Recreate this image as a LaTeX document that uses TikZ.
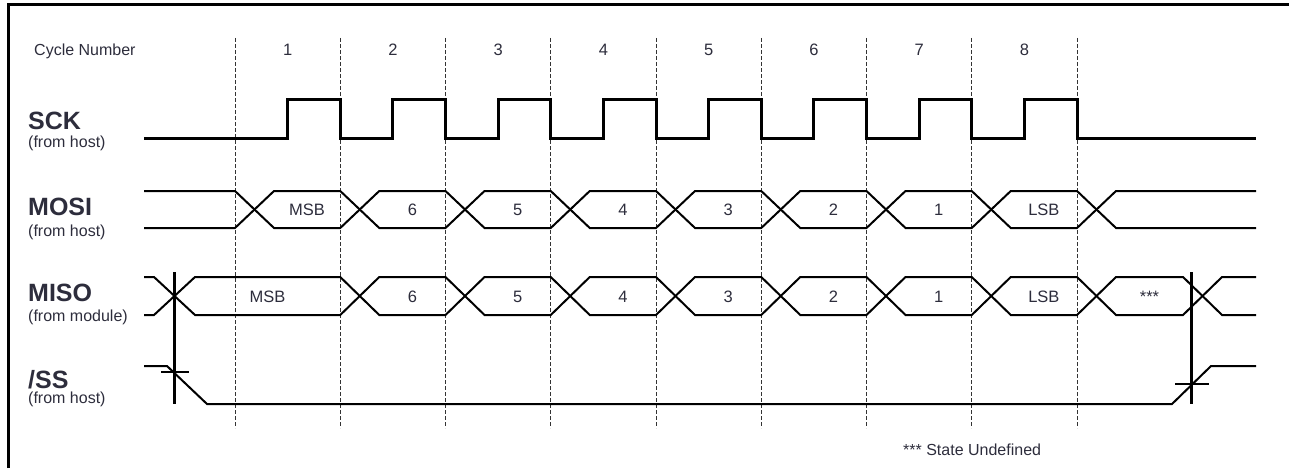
\documentclass[tikz,border=0pt]{standalone}
\usepackage{fontspec}
\setmainfont{Liberation Sans}
\definecolor{txt}{RGB}{45,45,60}
\begin{document}
\begin{tikzpicture}[x=1pt,y=-1pt,
	clk/.style={line width=3pt},
	sig/.style={line width=2pt},
	grid/.style={line width=1pt,black!80,dash pattern=on 4pt off 2pt},
	big/.style={anchor=base west,inner sep=0pt,text=txt,font=\fontsize{25}{28}\selectfont\bfseries},
	small/.style={anchor=base west,inner sep=0pt,text=txt,font=\fontsize{16}{18}\selectfont},
	bit/.style={anchor=base,inner sep=0pt,text=txt,font=\fontsize{16.5}{18}\selectfont}]
	\useasboundingbox (0,0) rectangle (1289,468);
	% frame
	\draw[line width=3pt] (8,468) -- (8,5) -- (1289,5);
	% cycle boundaries
	\foreach \i in {0,...,8}
	\draw[grid] ({235+\i*105.25},38) -- ({235+\i*105.25},428);
	\node[small] (cyc) at (34,55.5) {Cycle Number};
	\foreach \i in {1,...,8}
	\node[bit] (n\i) at ({182.4+\i*105.25},56) {\i};
	% labels
	\node[big] (sck) at (28,129) {SCK};
	\node[small] (sckh) at (28,147) {(from host)};
	\node[big] (mosi) at (28,215.5) {MOSI};
	\node[small] (mosih) at (28,236) {(from host)};
	\node[big] (miso) at (28,301.5) {MISO};
	\node[small] (misom) at (28,321.5) {(from module)};
	\node[big] (ss) at (28,388.5) {/SS};
	\node[small] (ssh) at (28,403.5) {(from host)};
	% SCK
	\draw[clk] (144,138) \foreach \i in {0,...,7} { -- ({287.6+\i*105.25},138) -- ({287.6+\i*105.25},100) -- ({340.25+\i*105.25},100) -- ({340.25+\i*105.25},138)} -- (1256,138);
	% MOSI
	\draw[sig] (144,191) \foreach \i in {0,2,4,6} { -- ({235+\i*105.25},191) -- ++(39,37) -- ({340.25+\i*105.25},228) -- ++(39,-37)} -- (1077,191) -- (1116,228) -- (1256,228);
	\draw[sig] (144,228) \foreach \i in {0,2,4,6} { -- ({235+\i*105.25},228) -- ++(39,-37) -- ({340.25+\i*105.25},191) -- ++(39,37)} -- (1077,228) -- (1116,191) -- (1256,191);
	\foreach \bitname [count=\i from 0] in {MSB,6,5,4,3,2,1,LSB}
	\node[bit] (mo\i) at ({307.1+\i*105.25},215) {\bitname};
	% MISO
	\draw[sig] (144,277) -- (154,277) -- (195,315) \foreach \i in {1,3,5,7} { -- ({235+\i*105.25},315) -- ++(39,-38) -- ({340.25+\i*105.25},277) -- ++(39,38)} -- (1183,315) -- (1222,277) -- (1256,277);
	\draw[sig] (144,315) -- (154,315) -- (195,277) \foreach \i in {1,3,5,7} { -- ({235+\i*105.25},277) -- ++(39,38) -- ({340.25+\i*105.25},315) -- ++(39,-38)} -- (1183,277) -- (1222,315) -- (1256,315);
	\node[bit] (mi0) at (267.5,302) {MSB};
	\foreach \bitname [count=\i from 1] in {6,5,4,3,2,1,LSB}
	\node[bit] (mi\i) at ({307.1+\i*105.25},302) {\bitname};
	\node[bit] (mi8) at (1149.5,302) {***};
	% /SS
	\draw[sig] (144,366) -- (167,366) -- (207,404) -- (1172,404) -- (1211,366) -- (1256,366);
	\draw[clk] (174,272) -- (174,404);
	\draw[sig] (161,372) -- (189,372);
	\draw[clk] (1191,272) -- (1191,404);
	\draw[sig] (1175,384) -- (1209,384);
	\node[small] (undef) at (903,455) {*** State Undefined};
\end{tikzpicture}
\end{document}
